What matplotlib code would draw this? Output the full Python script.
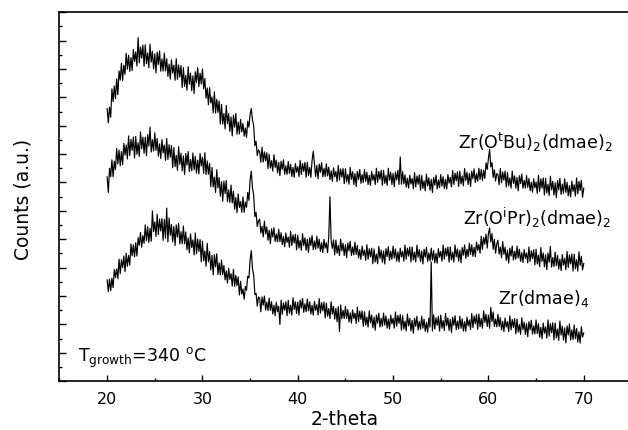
import matplotlib.pyplot as plt
import numpy as np
from matplotlib.ticker import MultipleLocator

# 2-theta grid (deg), 8 points per degree; one row below = one degree
two_theta = np.arange(20, 70.001, 0.125)

tbu_dmae = [
    9.60, 9.10, 9.65, 9.30, 10.30, 9.85, 10.40, 9.95,        # 20
    10.65, 10.09, 10.93, 10.61, 11.20, 10.59, 11.13, 10.81,
    11.55, 10.99, 11.48, 10.91, 11.40, 10.94, 11.68, 11.26,
    11.60, 11.10, 12.10, 11.21, 11.77, 11.38, 11.84, 11.09,
    11.85, 11.18, 11.56, 11.04, 11.87, 11.24, 11.62, 11.00,
    11.53, 10.86, 11.59, 11.16, 11.64, 10.92, 11.35, 10.92,  # 25
    11.55, 10.93, 11.36, 10.74, 11.17, 10.64, 11.32, 10.85,
    11.13, 10.60, 11.36, 10.63, 11.14, 10.71, 11.12, 10.34,
    11.05, 10.38, 10.77, 10.25, 11.08, 10.46, 10.85, 10.23,
    10.76, 10.13, 10.90, 10.52, 11.05, 10.38, 10.85, 10.47,
    11.00, 10.30, 10.66, 9.97, 10.33, 9.74, 10.34, 9.80,     # 30
    10.01, 9.45, 10.19, 9.44, 9.93, 9.47, 9.87, 9.06,
    9.75, 9.06, 9.43, 8.89, 9.71, 9.07, 9.43, 8.80,
    9.31, 8.64, 9.37, 8.95, 9.43, 8.70, 9.13, 8.71,
    9.22, 8.78, 9.08, 8.63, 8.92, 8.59, 9.16, 8.95,
    9.40, 9.60, 9.20, 9.00, 8.30, 8.45, 7.95, 8.15,          # 35
    8.09, 7.71, 8.25, 7.72, 8.08, 7.76, 8.05, 7.49,
    7.99, 7.51, 7.77, 7.40, 7.98, 7.53, 7.79, 7.34,
    7.71, 7.24, 7.75, 7.46, 7.80, 7.29, 7.59, 7.29,
    7.74, 7.32, 7.64, 7.21, 7.53, 7.18, 7.67, 7.36,
    7.56, 7.21, 7.78, 7.28, 7.67, 7.39, 7.71, 7.18,          # 40
    7.71, 7.25, 7.53, 7.18, 7.78, 8.10, 7.64, 7.21,
    7.60, 7.13, 7.65, 7.36, 7.70, 7.20, 7.50, 7.21,
    7.66, 7.23, 7.54, 7.10, 7.41, 7.04, 7.52, 7.20,
    7.39, 7.03, 7.60, 7.09, 7.48, 7.19, 7.49, 6.96,
    7.48, 7.02, 7.29, 6.94, 7.53, 7.11, 7.38, 6.93,          # 45
    7.32, 6.86, 7.39, 7.11, 7.46, 6.97, 7.28, 7.00,
    7.46, 7.04, 7.36, 6.93, 7.25, 6.90, 7.39, 7.08,
    7.28, 6.93, 7.50, 7.00, 7.39, 7.11, 7.43, 6.90,
    7.43, 6.97, 7.25, 6.90, 7.50, 7.08, 7.36, 6.93,
    7.32, 6.85, 7.37, 7.09, 7.43, 6.93, 7.90, 6.94,          # 50
    7.38, 6.95, 7.27, 6.84, 7.15, 6.80, 7.26, 6.95,
    7.14, 6.78, 7.35, 6.84, 7.23, 6.94, 7.27, 6.73,
    7.25, 6.79, 7.06, 6.71, 7.30, 6.88, 7.16, 6.73,
    7.11, 6.65, 7.18, 6.91, 7.26, 6.77, 7.09, 6.82,
    7.28, 6.87, 7.20, 6.79, 7.11, 6.77, 7.28, 6.98,          # 55
    7.18, 6.84, 7.42, 6.93, 7.33, 7.06, 7.38, 6.86,
    7.40, 6.95, 7.23, 6.88, 7.49, 7.07, 7.36, 6.93,
    7.32, 6.86, 7.40, 7.13, 7.48, 7.00, 7.31, 7.04,
    7.50, 7.11, 7.46, 7.07, 7.43, 7.14, 7.69, 7.46,
    7.84, 8.17, 7.55, 7.70, 7.18, 7.45, 7.05, 7.31,          # 60
    7.28, 6.92, 7.49, 6.99, 7.37, 7.08, 7.40, 6.84,
    7.35, 6.88, 7.16, 6.80, 7.40, 6.97, 7.23, 6.80,
    7.18, 6.71, 7.24, 6.96, 7.30, 6.80, 7.08, 6.80,
    7.25, 6.83, 7.14, 6.71, 7.01, 6.66, 7.13, 6.81,
    7.02, 6.62, 7.25, 6.69, 7.13, 6.80, 7.16, 6.56,          # 65
    7.15, 6.63, 6.94, 6.54, 7.22, 6.74, 7.04, 6.56,
    6.99, 6.47, 7.07, 6.74, 7.14, 6.58, 6.94, 6.61,
    7.13, 6.65, 7.01, 6.53, 6.89, 6.49, 7.05, 6.69,
    6.92, 6.52, 7.16, 6.60, 7.04, 6.72, 7.08, 6.48,
    6.80,                                                    # 70
]

ipr_dmae = [
    7.20, 6.65, 7.50, 7.20, 7.80, 7.20, 7.75, 7.45,          # 20
    8.20, 7.65, 8.14, 7.59, 8.09, 7.63, 8.38, 7.97,
    8.32, 7.83, 8.64, 7.95, 8.52, 8.13, 8.60, 7.86,
    8.62, 7.99, 8.40, 7.92, 8.78, 8.19, 8.60, 8.03,
    8.60, 7.94, 8.69, 8.28, 8.95, 8.07, 8.51, 8.11,
    8.75, 8.13, 8.55, 7.93, 8.36, 7.84, 8.51, 8.04,          # 25
    8.32, 7.78, 8.55, 7.81, 8.33, 7.89, 8.30, 7.52,
    8.23, 7.56, 7.95, 7.43, 8.26, 7.64, 8.03, 7.41,
    7.94, 7.28, 8.02, 7.61, 8.09, 7.38, 7.81, 7.41,
    8.04, 7.45, 7.92, 7.33, 7.79, 7.30, 8.02, 7.58,
    7.89, 7.32, 8.05, 7.28, 7.76, 7.29, 7.67, 6.85,          # 30
    7.53, 6.84, 7.19, 6.65, 7.45, 6.81, 7.17, 6.52,
    7.03, 6.34, 7.05, 6.61, 7.07, 6.33, 6.74, 6.30,
    6.91, 6.28, 6.69, 6.06, 6.47, 5.94, 6.60, 6.12,
    6.33, 5.95, 6.49, 5.95, 6.31, 6.13, 6.65, 6.37,
    7.10, 7.40, 6.80, 6.55, 5.80, 5.95, 5.45, 5.65,          # 35
    5.71, 5.22, 5.46, 5.08, 5.64, 5.19, 5.43, 4.97,
    5.32, 4.85, 5.37, 5.08, 5.41, 4.92, 5.19, 4.91,
    5.35, 4.92, 5.23, 4.81, 5.10, 4.74, 5.22, 4.89,
    5.08, 4.72, 5.28, 4.78, 5.16, 4.87, 5.18, 4.63,
    5.15, 4.69, 4.96, 4.61, 5.20, 4.78, 5.05, 4.61,          # 40
    5.00, 4.54, 5.06, 4.78, 5.13, 4.63, 4.94, 4.65,
    5.11, 4.69, 5.00, 4.57, 4.88, 4.53, 5.00, 4.69,
    4.88, 4.53, 5.09, 6.50, 4.96, 4.68, 4.98, 4.45,
    4.97, 4.51, 4.78, 4.43, 5.01, 4.59, 4.86, 4.43,
    4.81, 4.35, 4.87, 4.59, 4.93, 4.43, 4.73, 4.45,          # 45
    4.90, 4.47, 4.78, 4.34, 4.64, 4.29, 4.76, 4.43,
    4.62, 4.26, 4.81, 4.30, 4.67, 4.38, 4.69, 4.14,
    4.66, 4.20, 4.48, 4.14, 4.75, 4.33, 4.62, 4.19,
    4.59, 4.13, 4.67, 4.39, 4.74, 4.26, 4.58, 4.30,
    4.76, 4.34, 4.66, 4.23, 4.55, 4.20, 4.69, 4.38,          # 50
    4.58, 4.23, 4.80, 4.30, 4.69, 4.41, 4.73, 4.20,
    4.73, 4.27, 4.55, 4.20, 4.79, 4.37, 4.64, 4.21,
    4.59, 4.13, 4.65, 4.37, 4.72, 4.22, 4.52, 4.24,
    4.69, 4.27, 4.60, 4.17, 4.50, 4.16, 4.67, 4.37,
    4.58, 4.23, 4.80, 4.30, 4.69, 4.41, 4.73, 4.20,          # 55
    4.73, 4.27, 4.55, 4.20, 4.80, 4.38, 4.66, 4.23,
    4.62, 4.17, 4.71, 4.44, 4.80, 4.33, 4.65, 4.39,
    4.86, 4.46, 4.81, 4.40, 4.72, 4.39, 4.90, 4.61,
    4.82, 4.51, 5.11, 4.65, 5.07, 4.83, 5.18, 4.69,
    5.20, 5.40, 4.90, 5.20, 4.65, 5.00, 4.51, 4.84,          # 60
    4.97, 4.48, 4.73, 4.35, 4.92, 4.47, 4.72, 4.26,
    4.62, 4.16, 4.69, 4.41, 4.76, 4.27, 4.58, 4.30,
    4.76, 4.34, 4.65, 4.22, 4.53, 4.18, 4.64, 4.33,
    4.52, 4.17, 4.73, 4.22, 4.60, 4.32, 4.63, 4.10,
    4.65, 4.13, 4.44, 4.04, 4.71, 4.22, 4.52, 4.03,          # 65
    4.46, 3.93, 4.52, 4.19, 4.75, 4.02, 4.36, 4.04,
    4.55, 4.07, 4.43, 3.95, 4.30, 3.90, 4.46, 4.09,
    4.33, 3.93, 4.57, 4.01, 4.45, 4.13, 4.48, 3.88,
    4.48, 3.96, 4.28, 3.88, 4.56, 4.08, 4.40, 3.92,
    4.15,                                                    # 70
]

zr_dmae4 = [
    3.57, 3.16, 3.60, 3.19, 3.63, 3.30, 3.93, 3.65,          # 20
    3.96, 3.61, 4.30, 3.79, 4.28, 4.00, 4.41, 3.86,
    4.51, 4.05, 4.43, 4.09, 4.84, 4.42, 4.80, 4.38,
    4.88, 4.41, 5.06, 4.79, 5.24, 4.72, 5.13, 4.86,
    5.51, 4.95, 5.45, 4.89, 5.39, 4.93, 6.00, 5.27,
    5.61, 5.10, 5.88, 5.17, 5.71, 5.29, 5.73, 4.96,          # 25
    5.70, 5.04, 6.10, 4.91, 5.75, 5.14, 5.52, 4.91,
    5.45, 4.78, 5.51, 5.08, 5.56, 4.84, 5.27, 4.84,
    5.47, 4.84, 5.26, 4.63, 5.05, 4.52, 5.19, 4.71,
    4.98, 4.45, 5.22, 4.49, 5.01, 4.57, 4.99, 4.21,
    4.93, 4.24, 4.59, 4.05, 4.86, 4.21, 4.57, 3.92,          # 30
    4.43, 3.75, 4.46, 4.03, 4.49, 3.76, 4.17, 3.74,
    4.27, 3.76, 4.08, 3.57, 3.89, 3.46, 3.98, 3.59,
    3.79, 3.35, 3.94, 3.34, 3.73, 3.37, 3.68, 3.04,
    3.52, 3.07, 3.25, 2.89, 3.34, 3.21, 3.70, 3.64,
    4.27, 4.60, 3.95, 3.75, 3.05, 3.10, 2.65, 2.97,          # 35
    2.93, 2.45, 2.97, 2.68, 3.00, 2.51, 2.79, 2.49,
    2.93, 2.50, 2.80, 2.37, 2.68, 2.31, 2.79, 2.45,
    2.64, 2.00, 2.86, 2.36, 2.76, 2.50, 2.80, 2.31,
    2.85, 2.39, 2.68, 2.33, 2.94, 2.53, 2.80, 2.39,
    2.79, 2.33, 2.86, 2.58, 2.92, 2.43, 2.73, 2.45,          # 40
    2.90, 2.48, 2.80, 2.37, 2.68, 2.33, 2.81, 2.50,
    2.70, 2.34, 2.91, 2.40, 2.77, 2.48, 2.79, 2.23,
    2.75, 2.29, 2.56, 2.21, 2.80, 2.37, 2.64, 2.19,
    2.57, 2.10, 2.63, 1.75, 2.69, 2.20, 2.50, 2.21,
    2.64, 2.21, 2.52, 2.09, 2.41, 2.05, 2.52, 2.21,          # 45
    2.40, 2.04, 2.61, 2.10, 2.47, 2.18, 2.48, 1.93,
    2.45, 1.98, 2.26, 1.91, 2.48, 2.06, 2.33, 1.88,
    2.26, 1.80, 2.33, 2.05, 2.40, 1.91, 2.22, 1.94,
    2.40, 1.98, 2.30, 1.87, 2.19, 1.84, 2.33, 2.02,
    2.22, 1.87, 2.44, 1.94, 2.32, 2.04, 2.35, 1.80,          # 50
    2.31, 1.84, 2.12, 1.77, 2.37, 1.95, 2.22, 1.77,
    2.15, 1.69, 2.22, 1.94, 2.29, 1.80, 2.11, 1.83,
    2.29, 1.87, 2.19, 1.76, 2.08, 1.73, 2.22, 1.91,
    4.20, 1.77, 2.34, 1.84, 2.24, 1.97, 2.29, 1.77,
    2.33, 1.87, 2.14, 1.79, 2.39, 1.96, 2.23, 1.79,          # 55
    2.18, 1.72, 2.25, 1.97, 2.31, 1.82, 2.12, 1.84,
    2.29, 1.87, 2.20, 1.77, 2.10, 1.76, 2.26, 1.95,
    2.16, 1.82, 2.39, 1.89, 2.30, 2.03, 2.36, 1.83,
    2.37, 1.92, 2.21, 1.87, 2.48, 2.07, 2.36, 1.93,
    2.33, 1.87, 2.60, 2.10, 2.44, 1.93, 2.19, 1.92,          # 60
    2.36, 1.93, 2.24, 1.81, 2.11, 1.75, 2.23, 1.91,
    2.10, 1.75, 2.31, 1.81, 2.18, 1.90, 2.21, 1.67,
    2.19, 1.73, 2.00, 1.65, 2.24, 1.82, 2.08, 1.65,
    2.03, 1.57, 2.10, 1.81, 2.15, 1.66, 1.95, 1.67,
    2.16, 1.68, 2.03, 1.55, 1.90, 1.50, 2.05, 1.69,          # 65
    1.92, 1.52, 2.16, 1.59, 2.03, 1.71, 2.06, 1.46,
    2.05, 1.53, 1.84, 1.44, 2.12, 1.63, 1.94, 1.45,
    1.88, 1.35, 1.95, 1.63, 2.02, 1.45, 1.81, 1.47,
    1.98, 1.50, 1.86, 1.38, 1.74, 1.35, 1.92, 1.56,
    1.70,                                                    # 70
]

labels = [r'Zr(O$^{\rm t}$Bu)$_2$(dmae)$_2$',
          r'Zr(O$^{\rm i}$Pr)$_2$(dmae)$_2$',
          r'Zr(dmae)$_4$']

#%%
plt.rcParams['font.family'] = 'DejaVu Sans'
plt.rcParams['mathtext.default'] = 'regular'

fig = plt.figure(figsize=(6.28, 4.31), dpi=100)
ax = fig.add_axes([0.0947, 0.113, 0.9107, 0.8566])

for y in (tbu_dmae, ipr_dmae, zr_dmae4):
    ax.plot(two_theta, y, color='black', linewidth=0.85)

ax.set_xlim(15, 75)
ax.set_ylim(0, 13)

# ticks: inward, no y labels
ax.xaxis.set_major_locator(MultipleLocator(10))
ax.xaxis.set_minor_locator(MultipleLocator(5))
ax.yaxis.set_major_locator(MultipleLocator(1))
ax.yaxis.set_minor_locator(MultipleLocator(0.5))
ax.tick_params(axis='both', which='both', direction='in', width=1.0)
ax.tick_params(axis='x', which='major', length=4.5, labelsize=11.5, pad=7)
ax.tick_params(axis='x', which='minor', length=2.5)
ax.tick_params(axis='y', which='major', length=5, labelleft=False)
ax.tick_params(axis='y', which='minor', length=2.5)
for s in ax.spines.values():
    s.set_linewidth(1.2)

ax.set_xlabel('2-theta', fontsize=13.5)
ax.xaxis.set_label_coords(0.4995, -0.075)
ax.set_ylabel('Counts (a.u.)', fontsize=13.5)
ax.yaxis.set_label_coords(-0.047, 0.494)

# sample labels
ax.text(56.8, 8.22, labels[0], fontsize=12.5, va='baseline')
ax.text(57.3, 5.56, labels[1], fontsize=12.5, va='baseline')
ax.text(61.0, 2.76, labels[2], fontsize=12.5, va='baseline')
ax.text(16.9, 0.72, r'T$_{\rm growth}$=340 $^{\rm o}$C', fontsize=12.5, va='baseline')

plt.savefig('out.png', dpi=100)
